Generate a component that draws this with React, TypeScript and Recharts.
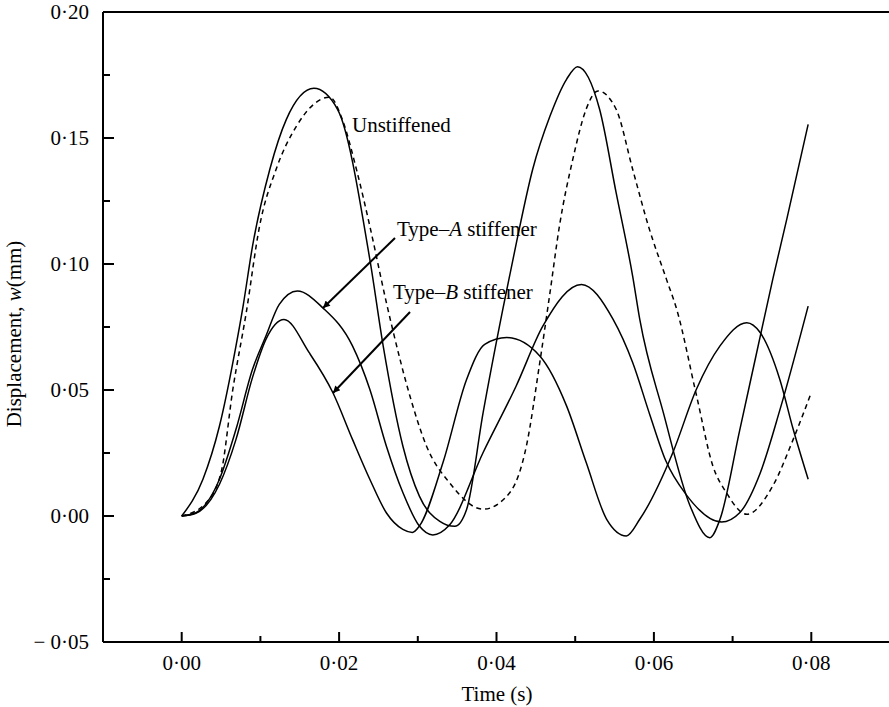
import { Line, LineChart, ReferenceLine, XAxis, YAxis } from 'recharts';

const FONT = '"Liberation Serif", "Times New Roman", serif';

// [time (s), displacement (mm)]
const unstiffened: [number, number][] = [
  [0, 0], [0.0027, 0.0146], [0.0048, 0.0357], [0.0069, 0.0675], [0.0078, 0.0833],
  [0.009, 0.1071], [0.0112, 0.1376], [0.0133, 0.1574], [0.0168, 0.1697], [0.0198, 0.1614],
  [0.0239, 0.1019], [0.0256, 0.0675], [0.0281, 0.0278], [0.0302, 0.0079], [0.0328, -0.0021],
  [0.0347, -0.0041], [0.0362, 0.0026], [0.0383, 0.041], [0.0408, 0.082], [0.0425, 0.108],
  [0.0446, 0.1376], [0.0468, 0.1587], [0.0489, 0.1733], [0.0503, 0.1783], [0.0531, 0.1614],
  [0.0552, 0.1283], [0.0573, 0.0952], [0.0582, 0.0781], [0.0612, 0.041], [0.0646, 0.004],
  [0.0671, -0.0086], [0.0684, -0.0013], [0.0709, 0.034], [0.073, 0.064], [0.0751, 0.0939],
  [0.0769, 0.118], [0.0796, 0.1554],
];

const unstiffenedDashed: [number, number][] = [
  [0, 0], [0.0029, 0.0046], [0.005, 0.0172], [0.0065, 0.0503], [0.0082, 0.0807],
  [0.0099, 0.1151], [0.012, 0.1376], [0.0146, 0.1548], [0.0188, 0.1662], [0.0204, 0.1574],
  [0.0222, 0.1376], [0.0239, 0.1151], [0.026, 0.0848], [0.0268, 0.0741], [0.029, 0.0476],
  [0.0311, 0.0278], [0.034, 0.0133], [0.0383, 0.0027], [0.0417, 0.0093], [0.0438, 0.0278],
  [0.0455, 0.0609], [0.0468, 0.0887], [0.048, 0.1151], [0.0497, 0.1416], [0.0514, 0.1615],
  [0.0529, 0.1687], [0.0552, 0.1614], [0.0573, 0.1376], [0.0593, 0.1151], [0.0616, 0.0939],
  [0.0629, 0.082], [0.0654, 0.048], [0.0675, 0.0198], [0.0692, 0.0093], [0.0718, 0.0007],
  [0.0751, 0.0119], [0.0777, 0.0304], [0.08, 0.049],
];

const typeA: [number, number][] = [
  [0, 0], [0.0018, 0.0013], [0.0048, 0.0146], [0.0069, 0.0344], [0.009, 0.0582],
  [0.0107, 0.0714], [0.0124, 0.084], [0.0147, 0.0893], [0.0179, 0.0827], [0.0217, 0.0675],
  [0.0239, 0.0503], [0.026, 0.0278], [0.0281, 0.0093], [0.0302, -0.004], [0.0319, -0.0075],
  [0.034, -0.0037], [0.0383, 0.0252], [0.0425, 0.0516], [0.0459, 0.0754], [0.0508, 0.0919],
  [0.0548, 0.0781], [0.0573, 0.0609], [0.0595, 0.04], [0.0615, 0.022], [0.0641, 0.0085],
  [0.0686, -0.0024], [0.0709, 0.0013], [0.0735, 0.017], [0.076, 0.042], [0.0796, 0.0833],
];

const typeB: [number, number][] = [
  [0, 0], [0.0018, 0.0011], [0.0048, 0.0126], [0.0069, 0.0304], [0.009, 0.055],
  [0.0107, 0.0701], [0.013, 0.078], [0.0162, 0.0648], [0.0192, 0.049], [0.0217, 0.0304],
  [0.0239, 0.0146], [0.026, 0.0013], [0.0281, -0.0053], [0.0293, -0.0065], [0.0302, -0.004],
  [0.0332, 0.0212], [0.0362, 0.0542], [0.0385, 0.0681], [0.0413, 0.0708], [0.0455, 0.0635],
  [0.0489, 0.0437], [0.0514, 0.0212], [0.054, -0.0013], [0.0565, -0.0079], [0.0582, -0.0013],
  [0.0624, 0.0251], [0.0654, 0.0503], [0.0684, 0.0675], [0.0718, 0.0767], [0.0735, 0.0728],
  [0.076, 0.0542], [0.0777, 0.0344], [0.0796, 0.0146],
];

const xMajor = [0, 0.02, 0.04, 0.06, 0.08];
const xMinor = [0.01, 0.03, 0.05, 0.07];
const yMajor = [-0.05, 0, 0.05, 0.1, 0.15, 0.2];
const yMinor = [-0.025, 0.025, 0.075, 0.125, 0.175];

const toRows = (pts: [number, number][]) => pts.map(([t, w]) => ({ t, w }));

const fmt = (v: number) => {
  const s = Math.abs(v).toFixed(2).replace('.', '·');
  return v < 0 ? `− ${s}` : s;
};

const YTick = ({ x, y, payload }: any) => {
  const major = yMajor.includes(payload.value);
  return (
    <g>
      <line x1={x} x2={x + (major ? 11 : 7)} y1={y} y2={y} stroke="#000" strokeWidth={2} />
      {major && (
        <text x={x - 14} y={y + 7} textAnchor="end" fontFamily={FONT} fontSize={21} fill="#000">
          {fmt(payload.value)}
        </text>
      )}
    </g>
  );
};

const XTick = ({ x, y, payload }: any) => {
  const major = xMajor.includes(payload.value);
  return (
    <g>
      <line x1={x} x2={x} y1={y} y2={y - (major ? 10 : 6)} stroke="#000" strokeWidth={2} />
      {major && (
        <text x={x} y={y + 28} textAnchor="middle" fontFamily={FONT} fontSize={21} fill="#000">
          {fmt(payload.value)}
        </text>
      )}
    </g>
  );
};

export default function App() {
  const lineProps = {
    type: 'monotone' as const,
    dataKey: 'w',
    stroke: '#000',
    strokeWidth: 1.5,
    dot: false,
    isAnimationActive: false,
  };

  return (
    <div style={{ position: 'relative', width: 889, height: 707, overflow: 'hidden', background: '#fff' }}>
      <style>{'body{margin:0}'}</style>
      <LineChart width={891} height={707} margin={{ top: 12, right: 1, bottom: 60, left: 98 }}>
        <XAxis
          type="number"
          dataKey="t"
          domain={[-0.01, 0.09]}
          ticks={[...xMajor, ...xMinor].sort((a, b) => a - b)}
          height={5}
          tickSize={0}
          tickMargin={0}
          tickLine={false}
          axisLine={{ stroke: '#000', strokeWidth: 2 }}
          tick={<XTick />}
          interval={0}
          allowDataOverflow
        />
        <YAxis
          type="number"
          domain={[-0.05, 0.2]}
          ticks={[...yMajor, ...yMinor].sort((a, b) => a - b)}
          width={5}
          tickSize={0}
          tickMargin={0}
          tickLine={false}
          axisLine={{ stroke: '#000', strokeWidth: 2 }}
          tick={<YTick />}
          interval={0}
          allowDataOverflow
        />
        <ReferenceLine y={0.2} stroke="#000" strokeWidth={2} />
        <Line {...lineProps} data={toRows(unstiffened)} name="Unstiffened" />
        <Line {...lineProps} data={toRows(unstiffenedDashed)} strokeDasharray="5 4" name="Unstiffened (dashed)" />
        <Line {...lineProps} data={toRows(typeA)} name="Type-A stiffener" />
        <Line {...lineProps} data={toRows(typeB)} name="Type-B stiffener" />
      </LineChart>

      {/* titles and annotations */}
      <svg
        width={889}
        height={707}
        style={{ position: 'absolute', left: 0, top: 0, pointerEvents: 'none' }}
        fontFamily={FONT}
        fontSize={21}
      >
        <defs>
          <marker id="head" viewBox="0 0 10 10" refX="10" refY="5" markerWidth="14" markerHeight="7" markerUnits="userSpaceOnUse" orient="auto">
            <path d="M0,0 L10,5 L0,10 z" fill="#000" />
          </marker>
        </defs>
        <text x={21} y={334} transform="rotate(-90 21 334)" textAnchor="middle">
          Displacement, <tspan fontStyle="italic">w</tspan>(mm)
        </text>
        <text x={497} y={701} textAnchor="middle">Time (s)</text>

        <text x={352} y={132}>Unstiffened</text>
        <text x={397} y={236}>
          Type–<tspan fontStyle="italic">A</tspan> stiffener
        </text>
        <text x={393} y={299}>
          Type–<tspan fontStyle="italic">B</tspan> stiffener
        </text>
        <line x1={395} y1={238} x2={323} y2={308} stroke="#000" strokeWidth={2} markerEnd="url(#head)" />
        <line x1={410} y1={312} x2={333} y2={393} stroke="#000" strokeWidth={2} markerEnd="url(#head)" />
      </svg>
    </div>
  );
}
